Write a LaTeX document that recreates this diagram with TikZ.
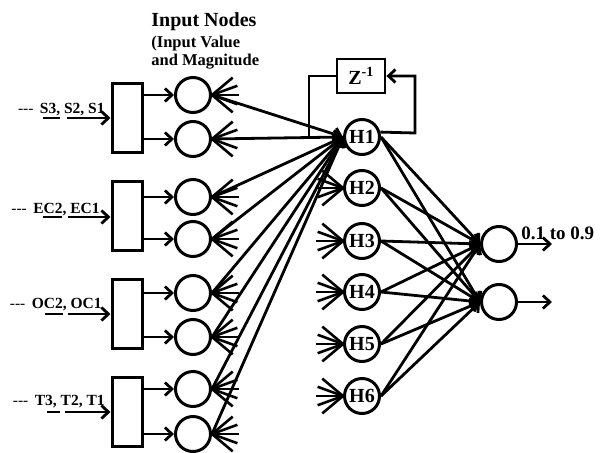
\documentclass[tikz,border=0pt]{standalone}
\usepackage{fontspec}
\setmainfont{Liberation Serif}
\usetikzlibrary{arrows.meta}

\tikzset{
  neuron/.style={circle, draw, line width=3pt, minimum size=35pt, inner sep=0pt,
    font=\fontsize{20}{20}\selectfont\bfseries},
  splitbox/.style={draw, line width=3pt, minimum width=30pt, minimum height=69pt},
  delaybox/.style={draw, line width=2.8pt, minimum width=48pt, minimum height=34pt,
    font=\fontsize{20}{20}\selectfont\bfseries},
  inlabel/.style={anchor=base east, inner sep=0pt, font=\fontsize{15.5}{15.5}\selectfont\bfseries},
  headline/.style={anchor=base west, inner sep=0pt, font=\fontsize{20}{20}\selectfont\bfseries},
  subline/.style={anchor=base west, inner sep=0pt, font=\fontsize{16.5}{16.5}\selectfont\bfseries},
  fan/.style={line width=2.6pt},
}

\begin{document}
\begin{tikzpicture}[x=1pt, y=-1pt, line width=2.8pt, >={Straight Barb[length=7pt,width=13pt]}]
	\useasboundingbox (0,0) rectangle (604,452);
	% heading
	\node[headline] (ttl) at (150,27) {Input Nodes};
	\node[subline] (sub1) at (150,48) {(Input Value};
	\node[subline] (sub2) at (150,65) {and Magnitude};
	% input boxes
	\node[splitbox] (r1) at (127,117.5) {};
	\node[splitbox] (r2) at (127,216) {};
	\node[splitbox] (r3) at (127,313.5) {};
	\node[splitbox] (r4) at (127,412) {};
	% input labels
	\node[inlabel] (ls) at (106,113) {{\mdseries -{}-{}-}\, S3, S2, S1};
	\node[inlabel] (le) at (101,213) {{\mdseries -{}-{}-}\, EC2, EC1};
	\node[inlabel] (lo) at (103,308) {{\mdseries -{}-{}-}\, OC2, OC1};
	\node[inlabel] (lt) at (106,405) {{\mdseries -{}-{}-}\, T3, T2, T1};
	\coordinate (sa) at (67,118);
	\coordinate (ea) at (68,217);
	\coordinate (oa) at (68,314);
	\coordinate (ta) at (65,412);
	\draw[->] (sa) -- (sa -| r1.west);
	\draw[->] (ea) -- (ea -| r2.west);
	\draw[->] (oa) -- (oa -| r3.west);
	\draw[->] (ta) -- (ta -| r4.west);
	\draw (43,118) -- (60,118);
	\draw (43,217) -- (62,217);
	\draw (45,314) -- (63,314);
	\draw (47,412) -- (60,412);
	% input nodes
	\foreach \i/\y/\r in {1/95/1,2/139/1,3/197/2,4/239/2,5/293/3,6/337/3,7/389/4,8/434/4} {
		\node[neuron] (i\i) at (193,\y) {};
		\draw[->] (i\i -| r\r.east) -- (i\i.west);
		\foreach \a in {40,20,0,-20,-40} \draw[fan] (i\i.east) -- ++(\a:27);
	}
	% hidden nodes
	\foreach \j/\y in {1/137,2/188,3/241,4/292,5/344,6/396}
		\node[neuron] (h\j) at (362,\y) {H\j};
	\foreach \j in {2,...,6}
		\foreach \a in {140,160,180,200,220} \draw[fan] (h\j.west) -- ++(\a:27);
	\foreach \i in {1,...,8} \draw[->] (i\i.east) -- (h1.west);
	% delay loop
	\node[delaybox] (zb) at (361,76) {Z\textsuperscript{-1}};
	\coordinate (zr) at (415,133);
	\coordinate (zl) at (309,137);
	\draw[->] (h1.15) -- (zr) |- (zb.east);
	\draw[->] (zb.west) -| (zl) -- (h1.west);
	% output nodes
	\node[neuron] (o1) at (499,244) {};
	\node[neuron] (o2) at (499,302) {};
	\foreach \j in {1,...,6} {
		\draw[->] (h\j.east) -- (o1.west);
		\draw[->] (h\j.east) -- (o2.west);
	}
	\coordinate (e1) at (552,244);
	\coordinate (e2) at (552,302);
	\draw[->] (o1.east) -- (e1);
	\draw[->] (o2.east) -- (e2);
	\node[anchor=base west, inner sep=0pt, font=\fontsize{19}{19}\selectfont\bfseries] (rng) at (520,239) {0.1 to 0.9};
\end{tikzpicture}
\end{document}
